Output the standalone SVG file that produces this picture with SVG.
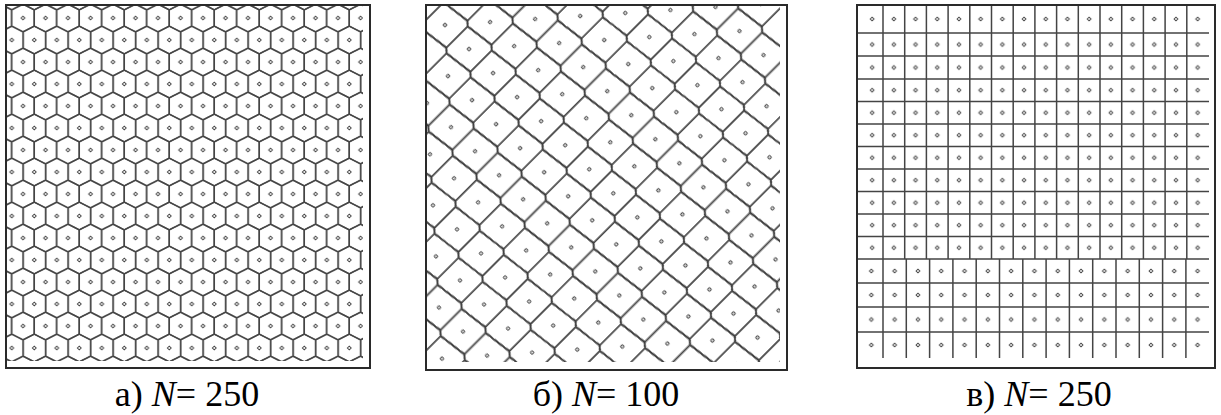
<svg xmlns="http://www.w3.org/2000/svg" width="1221" height="415" viewBox="0 0 1221 415">
<style>
.frame{fill:#fff;stroke:#2a2a2a;stroke-width:2}
.cell{fill:none;stroke:#444;stroke-width:1.5;stroke-linejoin:round}
.lb{fill:none;stroke:#3c3c3c;stroke-width:1.7;stroke-linejoin:round}
.ls{fill:none;stroke:#4a4a4a;stroke-width:1.5}
.dot{fill:#fff;stroke:#444;stroke-width:1}
.lbl{font-family:"Liberation Serif","Times New Roman",serif;font-size:36px;fill:#000;text-anchor:middle}
</style>
<defs>
<path id="hx" d="M0,-13.88L11.25,-8.12L11.25,8.12L0,13.88L-11.25,8.12L-11.25,-8.12Z" class="cell"/>
<path id="dm" d="M-1.9,0L0,-1.9L1.9,0L0,1.9Z" class="dot"/>
<path id="dq" d="M-1.35,-1.35H1.35V1.35H-1.35Z" class="dot"/>
<g id="hb">
<path class="lb" d="M17,15.14L-12.75,18.86L-17,15.14M-17,-15.14L12.75,-18.86L17,-15.14"/>
<path class="ls" d="M17,-15.14V15.14M-17,-15.14V15.14"/>
</g>
<pattern id="hexp" patternUnits="userSpaceOnUse" x="17.4" y="7" width="22.5" height="44">
<use href="#hx" x="5.625" y="11"/>
<use href="#hx" x="28.125" y="11"/>
<use href="#hx" x="5.625" y="55"/>
<use href="#hx" x="28.125" y="55"/>
<use href="#hx" x="16.875" y="33"/>
<use href="#hx" x="-5.625" y="33"/>
<use href="#hx" x="16.875" y="-11"/>
<use href="#hx" x="-5.625" y="-11"/>
<use href="#dm" x="5.625" y="11"/>
<use href="#dm" x="16.875" y="33"/>
</pattern>
<pattern id="rhomb" patternUnits="userSpaceOnUse" width="34" height="272" patternTransform="translate(446.4,2.4) rotate(45)">
<use href="#hb" x="10.75" y="-17"/><use href="#hb" x="44.75" y="-17"/>
<use href="#hb" x="15" y="17"/><use href="#hb" x="49" y="17"/>
<use href="#hb" x="19.25" y="51"/><use href="#hb" x="-14.75" y="51"/>
<use href="#hb" x="23.5" y="85"/><use href="#hb" x="-10.5" y="85"/>
<use href="#hb" x="27.75" y="119"/><use href="#hb" x="-6.25" y="119"/>
<use href="#hb" x="32" y="153"/><use href="#hb" x="-2" y="153"/>
<use href="#hb" x="2.25" y="187"/><use href="#hb" x="36.25" y="187"/>
<use href="#hb" x="6.5" y="221"/><use href="#hb" x="40.5" y="221"/>
<use href="#hb" x="10.75" y="255"/><use href="#hb" x="44.75" y="255"/>
<use href="#hb" x="15" y="289"/><use href="#hb" x="49" y="289"/>
<use href="#dq" x="15" y="17"/>
<use href="#dq" x="19.25" y="51"/>
<use href="#dq" x="23.5" y="85"/>
<use href="#dq" x="27.75" y="119"/>
<use href="#dq" x="32" y="153"/>
<use href="#dq" x="2.25" y="187"/>
<use href="#dq" x="6.5" y="221"/>
<use href="#dq" x="10.75" y="255"/>
</pattern>
<pattern id="rowA" patternUnits="userSpaceOnUse" x="883" y="0" width="21.7" height="20">
<use href="#dm" x="10.85" y="10"/>
</pattern>
<pattern id="rowB" patternUnits="userSpaceOnUse" x="883" y="0" width="23.3" height="20">
<use href="#dm" x="11.65" y="10"/>
</pattern>
</defs>
<g id="panel-a">
<rect class="frame" x="6" y="5" width="364" height="363"/>
<rect x="7" y="6" width="356" height="355" fill="url(#hexp)"/>
</g>
<g id="panel-b">
<rect class="frame" x="426" y="5" width="361" height="365"/>
<rect x="427" y="6" width="353" height="356" fill="url(#rhomb)"/>
</g>
<g id="panel-c">
<rect class="frame" x="857" y="5" width="358" height="363"/>
<path class="cell" d="M883,6V259M904.7,6V259M926.4,6V259M948.1,6V259M969.8,6V259M991.5,6V259M1013.2,6V259M1034.9,6V259M1056.6,6V259M1078.3,6V259M1100,6V259M1121.7,6V259M1143.4,6V259M1165.1,6V259M1186.8,6V259
M883,259V358M906.3,259V358M929.6,259V358M952.9,259V358M976.2,259V358M999.5,259V358M1022.8,259V358M1046.1,259V358M1069.4,259V358M1092.7,259V358M1116,259V358M1139.3,259V358M1162.6,259V358M1185.9,259V358
M858,33H1209M858,56H1209M858,79H1209M858,101.5H1209M858,124H1209M858,146.5H1209M858,169H1209M858,191.5H1209M858,214H1209M858,236.5H1209M858,259H1209M858,283H1209M858,307H1209M858,332H1209"/>
<rect x="858" y="0" width="351" height="20" fill="url(#rowA)" transform="translate(0,9)"/>
<rect x="858" y="0" width="351" height="20" fill="url(#rowA)" transform="translate(0,34.5)"/>
<rect x="858" y="0" width="351" height="20" fill="url(#rowA)" transform="translate(0,57.5)"/>
<rect x="858" y="0" width="351" height="20" fill="url(#rowA)" transform="translate(0,80.2)"/>
<rect x="858" y="0" width="351" height="20" fill="url(#rowA)" transform="translate(0,102.7)"/>
<rect x="858" y="0" width="351" height="20" fill="url(#rowA)" transform="translate(0,125.2)"/>
<rect x="858" y="0" width="351" height="20" fill="url(#rowA)" transform="translate(0,147.7)"/>
<rect x="858" y="0" width="351" height="20" fill="url(#rowA)" transform="translate(0,170.2)"/>
<rect x="858" y="0" width="351" height="20" fill="url(#rowA)" transform="translate(0,192.7)"/>
<rect x="858" y="0" width="351" height="20" fill="url(#rowA)" transform="translate(0,215.2)"/>
<rect x="858" y="0" width="351" height="20" fill="url(#rowA)" transform="translate(0,237.7)"/>
<rect x="858" y="0" width="351" height="20" fill="url(#rowB)" transform="translate(0,261)"/>
<rect x="858" y="0" width="351" height="20" fill="url(#rowB)" transform="translate(0,285)"/>
<rect x="858" y="0" width="351" height="20" fill="url(#rowB)" transform="translate(0,309.5)"/>
<rect x="858" y="0" width="351" height="20" fill="url(#rowB)" transform="translate(0,335)"/>
</g>
<g id="labels">
<text class="lbl" x="187" y="406">а) <tspan font-style="italic">N</tspan>= 250</text>
<text class="lbl" x="606" y="406">б) <tspan font-style="italic">N</tspan>= 100</text>
<text class="lbl" x="1039" y="406">в) <tspan font-style="italic">N</tspan>= 250</text>
</g>
</svg>
